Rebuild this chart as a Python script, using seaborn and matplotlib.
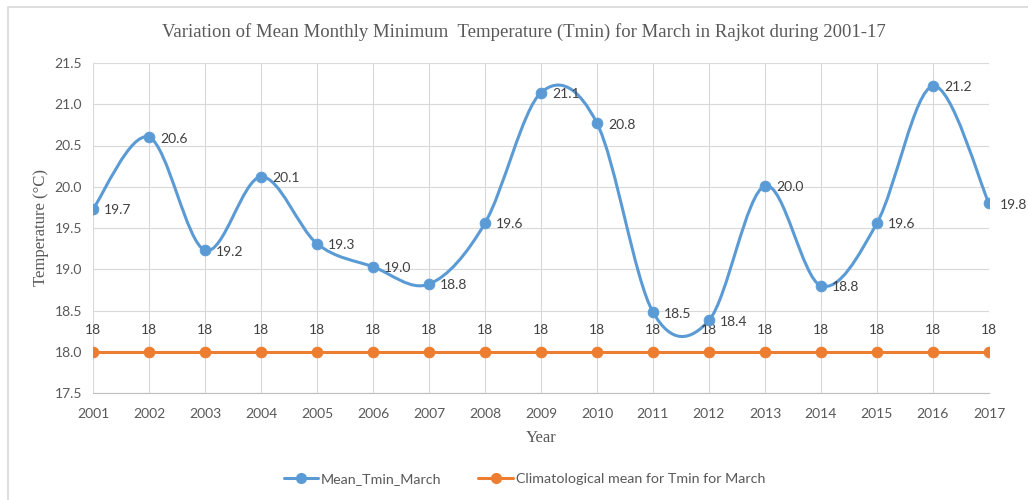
import matplotlib
matplotlib.use("Agg")
import matplotlib.pyplot as plt
import numpy as np
import pandas as pd
import seaborn as sns
from matplotlib.path import Path
from matplotlib.patches import PathPatch, Rectangle
from matplotlib.lines import Line2D

# data
years = list(range(2001, 2018))
tmin_march = [19.73, 20.60, 19.23, 20.12, 19.31, 19.03, 18.82, 19.56, 21.14,
              20.77, 18.48, 18.38, 20.01, 18.80, 19.56, 21.22, 19.80]
tmin_labels = ["19.7", "20.6", "19.2", "20.1", "19.3", "19.0", "18.8", "19.6", "21.1",
               "20.8", "18.5", "18.4", "20.0", "18.8", "19.6", "21.2", "19.8"]
clim_mean = [18] * 17

BLUE = "#5B9BD5"
ORANGE = "#ED7D31"
GRAY = "#595959"

sns.set_style("whitegrid", {"grid.color": "#D9D9D9", "axes.edgecolor": "#BFBFBF"})
plt.rcParams["font.family"] = ["Lato", "DejaVu Sans"]

df = pd.DataFrame({"Year": years, "Tmin": tmin_march, "Clim": clim_mean})

fig = plt.figure(figsize=(10.28, 5.0), dpi=100)
ax = fig.add_axes([0.0905, 0.214, 0.8715, 0.66])

# smoothed line like Excel (Bezier segments through the points)
x = np.array(years, dtype=float)
y = np.array(tmin_march)
verts = [(x[0], y[0])]
codes = [Path.MOVETO]
n = len(x)
for i in range(n - 1):
    xp, yp = (x[i - 1], y[i - 1]) if i > 0 else (x[i], y[i])
    xn, yn = (x[i + 2], y[i + 2]) if i + 2 < n else (x[i + 1], y[i + 1])
    c1 = (x[i] + (x[i + 1] - xp) / 6, y[i] + (y[i + 1] - yp) / 6)
    c2 = (x[i + 1] - (xn - x[i]) / 6, y[i + 1] - (yn - y[i]) / 6)
    verts += [c1, c2, (x[i + 1], y[i + 1])]
    codes += [Path.CURVE4] * 3
ax.add_patch(PathPatch(Path(verts, codes), facecolor="none", edgecolor=BLUE, lw=2.2, zorder=3))
sns.scatterplot(data=df, x="Year", y="Tmin", color=BLUE, s=60, edgecolor=BLUE, ax=ax, zorder=4)

sns.lineplot(data=df, x="Year", y="Clim", color=ORANGE, lw=2.2, ax=ax, zorder=3)
sns.scatterplot(data=df, x="Year", y="Clim", color=ORANGE, s=60, edgecolor=ORANGE, ax=ax, zorder=4)

for xi, yi, lab in zip(years, tmin_march, tmin_labels):
    ax.annotate(lab, (xi, yi), xytext=(8, -1), textcoords="offset points",
                fontsize=10, color="#404040", va="center", ha="left", annotation_clip=False)
for xi, yi in zip(years, clim_mean):
    ax.annotate(str(yi), (xi, yi), xytext=(0, 16), textcoords="offset points",
                fontsize=10, color="#404040", ha="center", va="center")

ax.set_xlim(2001, 2017)
ax.set_ylim(17.5, 21.5)
ax.set_xticks(years)
ax.set_yticks(np.arange(17.5, 21.51, 0.5))
ax.set_yticklabels([f"{v:.1f}" for v in np.arange(17.5, 21.51, 0.5)])
ax.tick_params(axis="both", labelsize=10, colors=GRAY, length=0, pad=8)
ax.tick_params(axis="x", pad=11)
ax.spines["top"].set_visible(False)
ax.spines["right"].set_visible(False)
ax.spines["left"].set_visible(False)

ax.set_xlabel("Year", family="Liberation Serif", fontsize=12, color=GRAY, labelpad=7)
ax.set_ylabel("Temperature (°C)", family="Liberation Serif", fontsize=12, color=GRAY, labelpad=4)
fig.text(0.51, 0.935, "Variation of Mean Monthly Minimum  Temperature (Tmin) for March in Rajkot during 2001-17",
         family="Liberation Serif", fontsize=13.5, color=GRAY, ha="center", va="center")

handles = [Line2D([], [], color=BLUE, lw=2.2, marker="o", markersize=7),
           Line2D([], [], color=ORANGE, lw=2.2, marker="o", markersize=7)]
fig.legend(handles, ["Mean_Tmin_March", "Climatological mean for Tmin for March"],
           loc="center", bbox_to_anchor=(0.51, 0.042), ncol=2, frameon=False,
           fontsize=10.3, labelcolor=GRAY, handlelength=2.4, columnspacing=2.6, handletextpad=0.2)

fig.patches.append(Rectangle((0.008, -0.01), 1.0, 0.997, transform=fig.transFigure,
                             fill=False, edgecolor="#D9D9D9", lw=1.2))

fig.savefig("out.png", dpi=100)
